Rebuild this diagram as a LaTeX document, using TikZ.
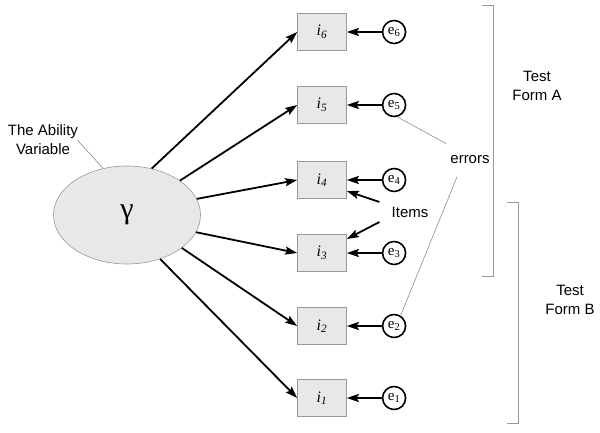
\documentclass[tikz,border=0pt]{standalone}
\usepackage{fontspec}
\setmainfont{Liberation Sans}
\newfontfamily\itemfont{Liberation Serif}
\usetikzlibrary{arrows.meta, positioning, shapes.geometric}
\colorlet{colorBox}{black!9}
\colorlet{colorEdge}{black!40}
\colorlet{colorLead}{black!45}
\tikzset{
  item/.style={draw=colorEdge, fill=colorBox, line width=0.6pt, minimum width=49pt, minimum height=37pt, inner sep=0pt, font=\fontsize{16}{18}\selectfont\itemfont\itshape},
  err/.style={circle, draw=black, line width=1.6pt, fill=white, minimum size=23pt, inner sep=0pt, font=\fontsize{15}{18}\selectfont\itemfont},
  lbl/.style={align=center, font=\fontsize{15}{19}\selectfont},
  lead/.style={draw=colorLead, line width=0.6pt},
  bracket/.style={draw=colorEdge, line width=1pt}
}

\begin{document}
\begin{tikzpicture}[>={Stealth[length=12pt,width=8pt,inset=2pt]}, x=1pt, y=-1pt, line width=1.8pt, node distance=35pt]
\useasboundingbox (0,0) rectangle (600,433);
\node[ellipse, draw=colorEdge, fill=colorBox, line width=0.6pt, minimum width=147pt, minimum height=98pt] (ability) at (127,215) {\fontsize{30}{32}\selectfont\itemfont γ};
\node[lbl] (abilityLabel) at (43,140) {The Ability\\Variable};
\node[item] (i6) at (322,32) {i\textsubscript{6}};
\node[item] (i5) at (322,105) {i\textsubscript{5}};
\node[item] (i4) at (322,180) {i\textsubscript{4}};
\node[item] (i3) at (322,253) {i\textsubscript{3}};
\node[item] (i2) at (322,326) {i\textsubscript{2}};
\node[item] (i1) at (322,398) {i\textsubscript{1}};
\node[err, right=of i6] (e6) {e\textsubscript{6}};
\node[err, right=of i5] (e5) {e\textsubscript{5}};
\node[err, right=of i4] (e4) {e\textsubscript{4}};
\node[err, right=of i3] (e3) {e\textsubscript{3}};
\node[err, right=of i2] (e2) {e\textsubscript{2}};
\node[err, right=of i1] (e1) {e\textsubscript{1}};
\node[lbl] (items) at (410,212) {Items};
\node[lbl] (errors) at (470,160) {errors};
\node[lbl] (formA) at (537,86) {Test\\Form A};
\node[lbl] (formB) at (570,300) {Test\\Form B};
% ability to items
\draw[->] (ability.62) -- (i6.west);
\draw[->] (ability.33) -- (i5.west);
\draw[->] (ability.13) -- (i4.west);
\draw[->] (ability.-14) -- (i3.west);
\draw[->] (ability.-31) -- (i2.west);
\draw[->] (ability.-53) -- (i1.west);
% errors to items
\draw[->] (e6) -- (i6);
\draw[->] (e5) -- (i5);
\draw[->] (e4) -- (i4);
\draw[->] (e3) -- (i3);
\draw[->] (e2) -- (i2);
\draw[->] (e1) -- (i1);
\draw[->] ([shift={(-8pt,10pt)}]items.west) -- ([yshift=-11pt]i4.east);
\draw[->] ([shift={(-8pt,-10pt)}]items.west) -- ([yshift=14pt]i3.east);
% leaders
\draw[lead] ([xshift=-5pt]abilityLabel.east) -- (ability.117);
\draw[lead] ([yshift=8pt]errors.north west) -- (e5.-75);
\draw[lead] ([shift={(11pt,-8pt)}]errors.south west) -- (e2.58);
% brackets
\draw[bracket] (482,6) -- (493,6) -- (493,276) -- (482,276);
\draw[bracket] (507,202) -- (518,202) -- (518,423) -- (507,423);
\end{tikzpicture}
\end{document}
